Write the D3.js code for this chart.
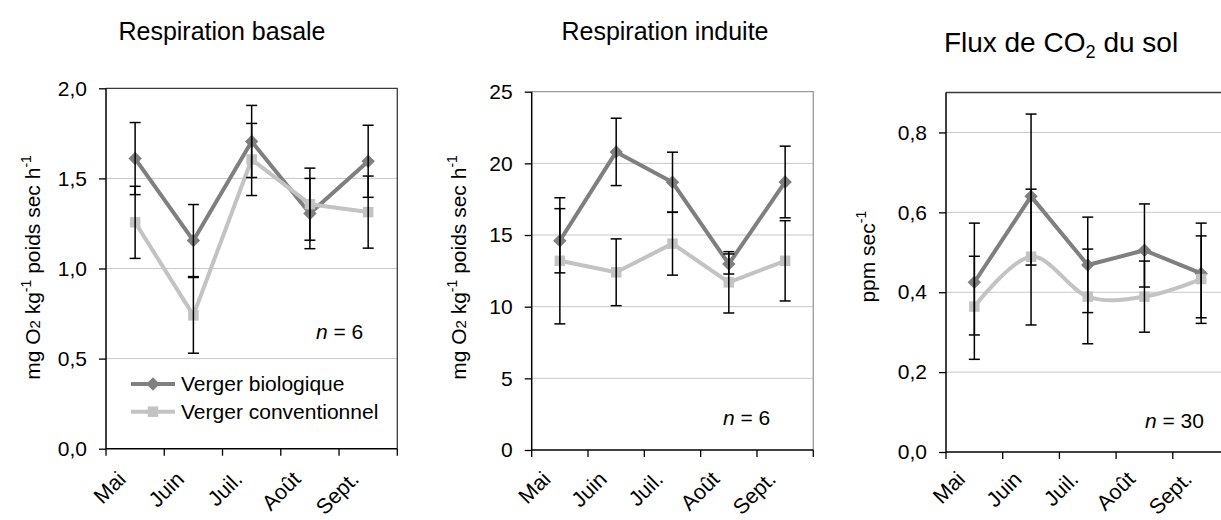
<!DOCTYPE html>
<html>
<head>
<meta charset="utf-8">
<script src="https://cdn.jsdelivr.net/npm/d3@7"></script>
<style>
  body { margin: 0; background: #fff; }
  svg { display: block; font-family: "Liberation Sans", Arial, sans-serif; }
</style>
</head>
<body>
<svg id="chart" width="1221" height="520"></svg>
<script>
// Sampling months
const months = ["Mai", "Juin", "Juil.", "Août", "Sept."];
const seriesNames = ["Verger biologique", "Verger conventionnel"];

// Respiration basale (mg O2 kg-1 poids sec h-1), mean ± error
const basalBio      = [1.61, 1.155, 1.705, 1.305, 1.595];
const basalBioErr   = [0.2, 0.2, 0.2, 0.195, 0.2];
const basalConv     = [1.256, 0.74, 1.605, 1.357, 1.313];
const basalConvErr  = [0.2, 0.21, 0.2, 0.2, 0.2];
const basalTicks    = [0, 0.5, 1.0, 1.5, 2.0];

// Respiration induite (mg O2 kg-1 poids sec h-1), mean ± error
const inducedBio     = [14.6, 20.8, 18.68, 12.98, 18.7];
const inducedBioErr  = [2.24, 2.35, 2.1, 0.7, 2.5];
const inducedConv    = [13.2, 12.4, 14.4, 11.7, 13.2];
const inducedConvErr = [4.4, 2.33, 2.2, 2.14, 2.8];
const inducedTicks   = [0, 5, 10, 15, 20, 25];

// Flux de CO2 du sol (ppm sec-1), mean with lower / upper bar ends
const fluxBio     = [0.425, 0.64, 0.468, 0.505, 0.447];
const fluxBioLo   = [0.293, 0.468, 0.349, 0.413, 0.322];
const fluxBioHi   = [0.573, 0.846, 0.588, 0.621, 0.573];
const fluxConv    = [0.364, 0.489, 0.389, 0.389, 0.433];
const fluxConvLo  = [0.232, 0.318, 0.271, 0.300, 0.336];
const fluxConvHi  = [0.490, 0.658, 0.508, 0.478, 0.541];
const fluxTicks   = [0, 0.2, 0.4, 0.6, 0.8];

const nBasal = "6", nInduced = "6", nFlux = "30";

const BIO = "#7f7f7f", CONV = "#c3c3c3";
const frFormat = d3.formatLocale({decimal: ",", thousands: " ", grouping: [3], currency: ["", " €"]});
const fmt1 = frFormat.format(".1f");
const fmt0 = frFormat.format("d");

const svg = d3.select("#chart");
const MONTH_LABEL_Y = 480.5;

function sym(vals, errs, sign) { return vals.map((v, i) => v + sign * errs[i]); }

function drawPanel(c) {
  const g = svg.append("g");
  const x = d3.scaleBand().domain(months).range([c.left, c.right]).padding(0);
  const y = d3.scaleLinear().domain(c.domain).range([c.bottom, c.top]);
  const cx = m => x(m) + x.bandwidth() / 2;

  // horizontal gridlines
  g.selectAll("line.grid").data(c.ticks.filter(t => t > 0 && y(t) > c.top + 1))
    .join("line").attr("class", "grid")
    .attr("x1", c.left).attr("x2", c.right)
    .attr("y1", d => y(d)).attr("y2", d => y(d))
    .attr("stroke", "#c8c8c8").attr("stroke-width", 1);

  // plot frame (top + right)
  g.append("path")
    .attr("d", `M${c.left},${y(c.domain[1])}H${c.right}V${c.bottom}`)
    .attr("fill", "none").attr("stroke", c.frame).attr("stroke-width", 1.3);

  // y axis
  const yAxis = d3.axisLeft(y).tickValues(c.ticks).tickFormat(c.fmt).tickSizeInner(7).tickSizeOuter(0).tickPadding(12);
  const ya = g.append("g").attr("transform", `translate(${c.left},0)`).call(yAxis);
  ya.select(".domain").attr("stroke", "#000").attr("stroke-width", 1.5)
    .attr("d", `M0,${y(c.domain[1])}V${c.bottom}`);
  ya.selectAll(".tick line").attr("stroke", "#000").attr("stroke-width", 1.3);
  ya.selectAll(".tick text").attr("font-size", 21).attr("fill", "#000")
    .attr("font-family", '"Liberation Sans", Arial, sans-serif');

  // x axis: ticks at band boundaries, rotated month labels
  const xa = g.append("g");
  xa.append("line").attr("x1", c.left).attr("x2", c.right)
    .attr("y1", c.bottom).attr("y2", c.bottom).attr("stroke", "#000").attr("stroke-width", 1.5);
  const bounds = months.map(m => x(m)).concat([x(months[months.length - 1]) + x.bandwidth()]);
  xa.selectAll("line.xt").data(bounds).join("line").attr("class", "xt")
    .attr("x1", d => d).attr("x2", d => d)
    .attr("y1", c.bottom).attr("y2", c.bottom + 7)
    .attr("stroke", "#000").attr("stroke-width", 1.3);
  xa.selectAll("text").data(months).join("text")
    .attr("transform", d => `translate(${cx(d) - 8},${MONTH_LABEL_Y}) rotate(-45)`)
    .attr("text-anchor", "end").attr("font-size", 21.5).text(d => d);

  // series lines and markers
  const line = d3.line().x((d, i) => cx(months[i])).y(d => y(d));
  const series = [
    {vals: c.bio, lo: c.bioLo, hi: c.bioHi, color: BIO, curve: d3.curveLinear, shape: "diamond"},
    {vals: c.conv, lo: c.convLo, hi: c.convHi, color: CONV, curve: c.convCurve || d3.curveLinear, shape: "square"}
  ];
  series.forEach(s => {
    g.append("path").datum(s.vals)
      .attr("d", line.curve(s.curve))
      .attr("fill", "none").attr("stroke", s.color).attr("stroke-width", 4)
      .attr("stroke-linejoin", "round");
    const marker = d3.symbol().type(d3.symbolSquare).size(s.shape === "diamond" ? 90 : 110);
    g.selectAll(null).data(s.vals).join("path")
      .attr("d", marker())
      .attr("transform", (d, i) => `translate(${cx(months[i])},${y(d)})` + (s.shape === "diamond" ? " rotate(45)" : ""))
      .attr("fill", s.color);
  });

  // error bars
  series.forEach(s => {
    s.vals.forEach((v, i) => {
      const px = cx(months[i]);
      const eb = g.append("g").attr("stroke", "#000").attr("stroke-width", 1.5);
      eb.append("line").attr("x1", px).attr("x2", px).attr("y1", y(s.hi[i])).attr("y2", y(s.lo[i]));
      [s.hi[i], s.lo[i]].forEach(b => {
        eb.append("line").attr("x1", px - 5.5).attr("x2", px + 5.5).attr("y1", y(b)).attr("y2", y(b));
      });
    });
  });

  // title
  const t = svg.append("text").attr("x", c.titleX).attr("y", c.titleY)
    .attr("text-anchor", "middle").attr("font-size", c.titleSize);
  c.title.forEach(p => {
    const ts = t.append("tspan").text(p.t);
    if (p.sub) ts.attr("font-size", c.titleSize * 0.65).attr("dy", 6);
    if (p.after) ts.attr("dy", -6);
  });

  // y axis label (rotated)
  const yl = svg.append("text")
    .attr("transform", `translate(${c.ylX},${c.ylY}) rotate(-90)`)
    .attr("text-anchor", "middle").attr("font-size", 21);
  c.ylabel.forEach(p => {
    const ts = yl.append("tspan").text(p.t);
    if (p.sup) ts.attr("font-size", 14).attr("dy", -9);
    if (p.small) ts.attr("font-size", 15);
    if (p.after) ts.attr("dy", 9);
  });

  // sample size note
  const nt = svg.append("text").attr("x", c.nX).attr("y", c.nY).attr("font-size", 21);
  nt.append("tspan").attr("font-style", "italic").text("n");
  nt.append("tspan").text(" = " + c.n);
}

drawPanel({
  left: 106, right: 397.3, top: 88.3, bottom: 448.7, domain: [0, 2],
  ticks: basalTicks, fmt: fmt1, frame: "#3a3a3a",
  bio: basalBio, bioLo: sym(basalBio, basalBioErr, -1), bioHi: sym(basalBio, basalBioErr, 1),
  conv: basalConv, convLo: sym(basalConv, basalConvErr, -1), convHi: sym(basalConv, basalConvErr, 1),
  title: [{t: "Respiration basale"}], titleX: 222, titleY: 40, titleSize: 25,
  ylabel: [{t: "mg O"}, {t: "2", small: true}, {t: " kg"}, {t: "-1", sup: true}, {t: "  poids sec h", after: true}, {t: "-1", sup: true}],
  ylX: 40, ylY: 267.5,
  n: nBasal, nX: 316, nY: 339
});

drawPanel({
  left: 531.7, right: 813.3, top: 91.7, bottom: 450, domain: [0, 25],
  ticks: inducedTicks, fmt: fmt0, frame: "#9a9a9a",
  bio: inducedBio, bioLo: sym(inducedBio, inducedBioErr, -1), bioHi: sym(inducedBio, inducedBioErr, 1),
  conv: inducedConv, convLo: sym(inducedConv, inducedConvErr, -1), convHi: sym(inducedConv, inducedConvErr, 1),
  title: [{t: "Respiration induite"}], titleX: 665, titleY: 40, titleSize: 25,
  ylabel: [{t: "mg O"}, {t: "2", small: true}, {t: " kg"}, {t: "-1", sup: true}, {t: " poids sec h", after: true}, {t: "-1", sup: true}],
  ylX: 466, ylY: 267.5,
  n: nInduced, nX: 723, nY: 425
});

drawPanel({
  left: 946, right: 1229.5, top: 92.5, bottom: 452, domain: [0, 0.9],
  ticks: fluxTicks, fmt: fmt1, frame: "#3a3a3a",
  bio: fluxBio, bioLo: fluxBioLo, bioHi: fluxBioHi,
  conv: fluxConv, convLo: fluxConvLo, convHi: fluxConvHi, convCurve: d3.curveCatmullRom.alpha(0),
  title: [{t: "Flux de CO"}, {t: "2", sub: true}, {t: " du sol", after: true}], titleX: 1061, titleY: 52, titleSize: 28,
  ylabel: [{t: "ppm sec"}, {t: "-1", sup: true}],
  ylX: 875, ylY: 256.7,
  n: nFlux, nX: 1145, nY: 428
});

// legend inside the first panel
const lg = svg.append("g");
[{name: seriesNames[0], color: BIO, diamond: true, y: 384},
 {name: seriesNames[1], color: CONV, diamond: false, y: 411.7}].forEach(e => {
  lg.append("line").attr("x1", 131).attr("x2", 175).attr("y1", e.y).attr("y2", e.y)
    .attr("stroke", e.color).attr("stroke-width", 4);
  lg.append("path")
    .attr("d", d3.symbol().type(d3.symbolSquare).size(e.diamond ? 90 : 110)())
    .attr("transform", `translate(153,${e.y})` + (e.diamond ? " rotate(45)" : ""))
    .attr("fill", e.color);
  lg.append("text").attr("x", 181).attr("y", e.y).attr("dy", "0.35em")
    .attr("font-size", 21).text(e.name);
});
</script>
</body>
</html>
